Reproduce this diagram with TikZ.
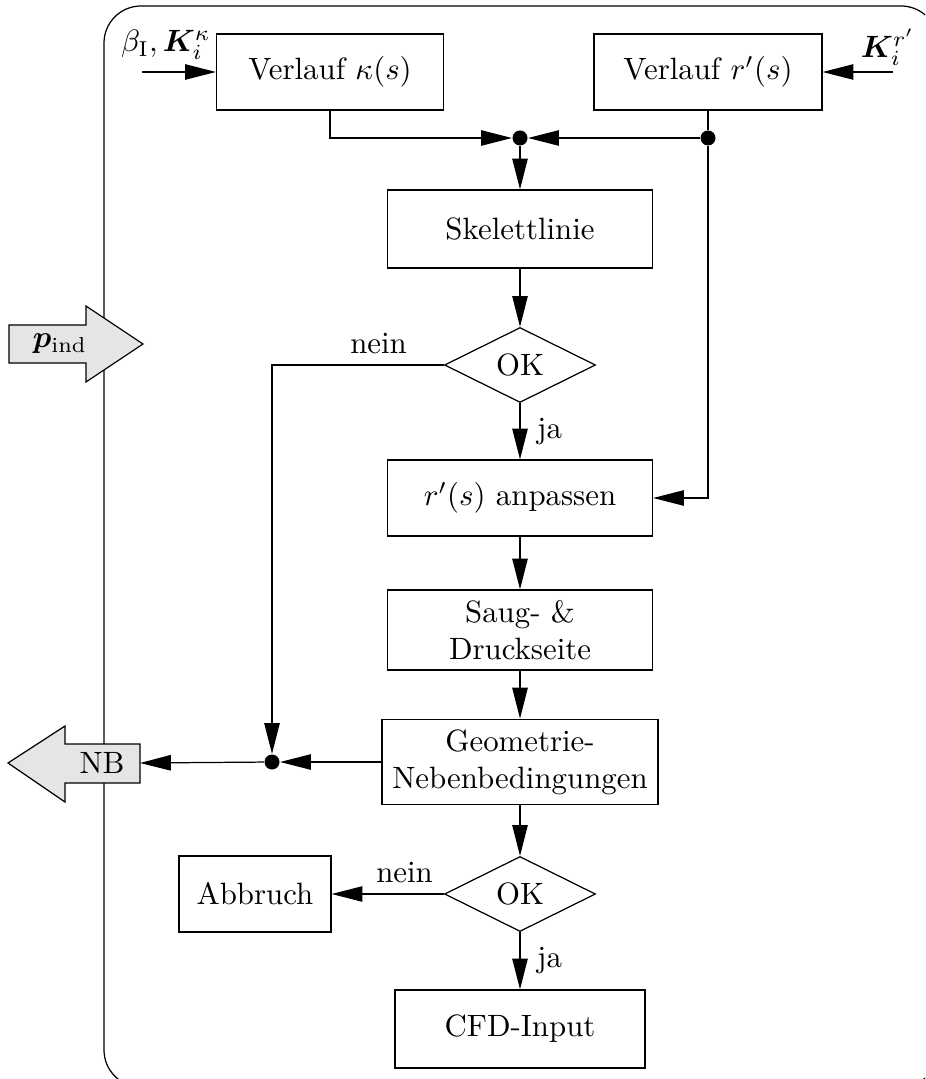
\documentclass[tikz,border=0pt]{standalone}
\usepackage{amsmath, bm}
\usetikzlibrary{arrows.meta, shapes.geometric, positioning, calc}

\newlength\px
\setlength\px{0.0114cm}

\tikzset{
   block/.style={draw, rectangle, minimum width=265\px, minimum height=76\px, align=center},
   decision/.style={draw, diamond, aspect=2, minimum width=151\px, minimum height=75\px, inner sep=0pt},
   junction/.style={circle, fill, inner sep=0pt, minimum size=15\px},
   flow/.style={-{Triangle[length=10pt, width=5pt]}},
   bigarrow/.style={draw, fill=gray!20}
}

\begin{document}
\begin{tikzpicture}[x=0.0114cm, y=-0.0114cm]
            \useasboundingbox (0,0) rectangle (925,1079);
            \clip (0,0) rectangle (925,1079);
            % Frame
            \draw[rounded corners=37\px] (104,6) rectangle (938,1087);
            % Interface arrows
            \draw[bigarrow] (9,325) -- (86,325) -- (86,306) -- (143,344)
               -- (86,382) -- (86,363) -- (9,363) -- cycle;
            \node (pind) at (60,344) {$\bm{p}_{\text{ind}}$};
            \draw[bigarrow] (140,744) -- (65,744) -- (65,726) -- (8,763)
               -- (65,802) -- (65,783) -- (140,783) -- cycle;
            \node (nb) at (102,763) {NB};
            \coordinate (nbend) at (140,763);
            % Blocks
            \node[block, minimum width=227\px] (kappa) at (330,72) {Verlauf $\kappa(s)$};
            \node[block, minimum width=228\px] (rprime) at (708,72) {Verlauf $r'(s)$};
            \node[junction] (merge) at (520,138) {};
            \node[junction] (split) at (708,138) {};
            \node[block, minimum height=78\px] (skelett) at (520,229) {Skelettlinie};
            \node[decision] (ok1) at (520,365) {OK};
            \node[block] (anpassen) at (520,498) {$r'(s)$ anpassen};
            \node[block] (saug) at (520,630) {Saug- \&\\Druckseite};
            \node[block, minimum width=269\px] (geo) at (520,762) {Geometrie-\\Nebenbedingungen};
            \node[junction] (nbjoin) at (272,762) {};
            \node[decision] (ok2) at (520,894) {OK};
            \node[block, minimum width=152\px] (abbruch) at (255,894) {Abbruch};
            \node[block, minimum width=250\px, minimum height=78\px] (cfd) at (520,1029) {CFD-Input};
            % Inputs
            \coordinate (kin) at (142,72);
            \coordinate (rin) at (893,72);
            \node[inner sep=0pt] (kinlabel) at (166,45) {$\beta_{\text{I}}, \bm{K}_i^{\kappa}$};
            \node[inner sep=0pt] (rinlabel) at (888,47) {$\bm{K}_i^{r'}$};
            \draw[flow] (kin) -- (kappa.west);
            \draw[flow] (rin) -- (rprime.east);
            % Connectors
            \draw[flow] (kappa.south) |- (merge);
            \draw (rprime.south) -- (split);
            \draw[flow] (split) -- (merge);
            \draw[flow] (merge) -- (skelett);
            \draw[flow] (split) |- (anpassen.east);
            \draw[flow] (skelett) -- (ok1);
            \draw[flow] (ok1) -- node[right=2pt] {ja} (anpassen);
            \draw[flow] (ok1.west) -| node[pos=0.19, above] {nein} (nbjoin);
            \draw[flow] (anpassen) -- (saug);
            \draw[flow] (saug) -- (geo);
            \draw[flow] (geo) -- (nbjoin);
            \draw[flow] (nbjoin) -- (nbend);
            \draw[flow] (geo) -- (ok2);
            \draw[flow] (ok2) -- node[pos=0.35, above] {nein} (abbruch);
            \draw[flow] (ok2) -- node[right=2pt] {ja} (cfd);
         \end{tikzpicture}
\end{document}
